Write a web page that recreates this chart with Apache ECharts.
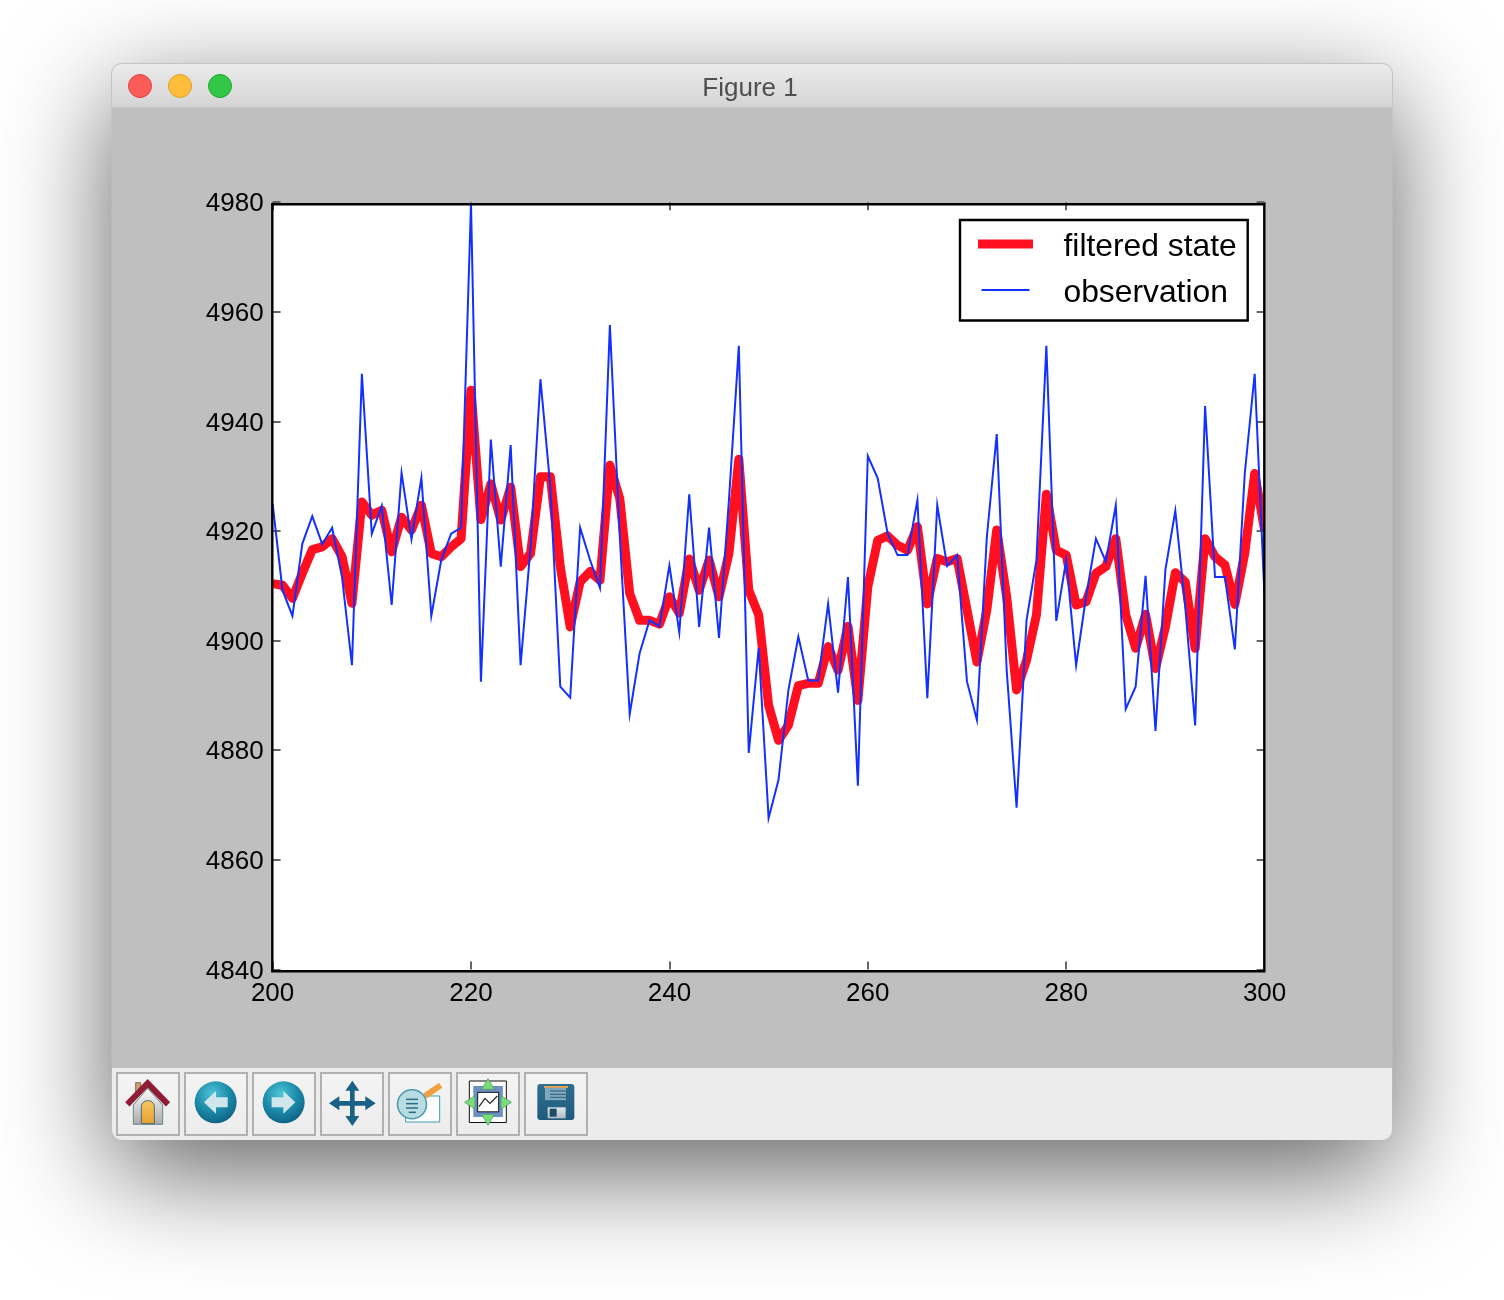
<!DOCTYPE html>
<html><head><meta charset="utf-8">
<style>html,body{margin:0;padding:0;background:#fff}#c{width:1504px;height:1300px}</style>
<script src="https://cdn.jsdelivr.net/npm/echarts@6/dist/echarts.min.js"></script>
</head><body><div id="c"></div>
<script>
const windowTitle = 'Figure 1';
const seriesNames = ['filtered state', 'observation'];
const xStart = 200;
const xTicksMinMax = [200, 300];
const yTicksMinMax = [4840, 4980];
const filteredState = [
4910.4,4910.1,4907.7,4912.3,4916.6,4917.1,4918.6,4915.3,4906.8,4925.3,
4922.9,4923.8,4916.2,4922.5,4920.2,4924.7,4915.9,4915.3,4917.1,4918.6,
4945.7,4922.1,4928.6,4922.0,4928.0,4913.5,4915.9,4929.9,4929.9,4913.5,
4902.5,4910.7,4912.6,4911.0,4932.0,4925.9,4908.6,4903.7,4903.7,4903.0,
4908.0,4905.0,4914.9,4909.2,4914.7,4908.0,4915.9,4933.1,4909.2,4904.7,
4888.2,4881.8,4884.6,4891.8,4892.2,4892.2,4898.9,4894.6,4902.6,4889.1,
4909.8,4918.3,4919.1,4917.4,4916.5,4920.8,4906.7,4915.0,4914.4,4915.0,
4905.6,4896.1,4905.6,4920.2,4908.0,4891.0,4896.4,4904.7,4926.7,4916.5,
4915.6,4906.5,4907.1,4912.3,4913.5,4918.6,4904.7,4898.6,4904.8,4894.9,
4902.5,4912.4,4910.7,4898.6,4918.6,4915.3,4913.8,4906.6,4915.9,4930.5,
4920.2];
const observation = [
4925.0,4909.2,4904.5,4917.7,4922.7,4917.6,4920.6,4911.6,4895.5,4948.7,
4919.5,4924.6,4906.5,4930.6,4918.5,4929.7,4904.5,4914.7,4919.5,4920.6,
4979.8,4892.5,4936.7,4913.5,4935.7,4895.5,4917.0,4947.7,4928.0,4891.6,
4889.6,4920.6,4914.7,4909.6,4957.6,4918.9,4886.6,4897.7,4903.7,4902.6,
4913.7,4901.5,4926.7,4902.5,4920.6,4900.5,4925.6,4953.8,4879.5,4898.7,
4867.6,4874.6,4891.0,4900.7,4892.7,4892.7,4906.7,4890.5,4911.6,4873.5,
4933.7,4929.6,4919.5,4915.6,4915.6,4925.6,4889.5,4924.7,4913.6,4915.6,
4892.5,4885.5,4918.9,4937.7,4894.6,4869.5,4903.7,4914.7,4953.8,4903.6,
4914.7,4895.5,4908.0,4918.6,4914.4,4924.7,4887.5,4891.6,4911.8,4883.5,
4912.9,4923.7,4906.2,4884.5,4942.8,4911.6,4911.6,4898.4,4930.5,4948.7,
4907.7];

const toPairs = a => a.map((v, i) => [xStart + i, v]);
const FONT = '"Liberation Sans", Arial, sans-serif';
const GRAY = '#bfbfbf';
const G = [];
const add = (o, z) => { o.z = z; o.silent = true; G.push(o); };
const rect = (x, y, w, h, style, z, r) => add({type:'rect', shape:{x, y, width:w, height:h, r:r||0}, style}, z);
const circle = (cx, cy, r, style, z) => add({type:'circle', shape:{cx, cy, r}, style}, z);
const poly = (points, style, z) => add({type:'polygon', shape:{points}, style}, z);
const pline = (points, style, z) => add({type:'polyline', shape:{points}, style}, z);
const vgrad = (a, b) => ({type:'linear', x:0, y:0, x2:0, y2:1, colorStops:[{offset:0, color:a},{offset:1, color:b}]});

/* window */
rect(111.5, 63.5, 1281, 1076.5, {fill:GRAY, shadowBlur:110, shadowColor:'rgba(0,0,0,0.62)', shadowOffsetY:32}, -20, 10);
rect(111.5, 63.5, 1281, 44, {fill:vgrad('#ececec','#d4d4d4'), stroke:'#c4c4c4', lineWidth:1}, -19, [10,10,0,0]);
rect(112, 108, 1280, 960, {fill:GRAY}, -19);
rect(112, 1068, 1280, 72, {fill:'#ececec'}, -19, [0,0,10,10]);
add({type:'text', style:{x:750, y:88.5, text:windowTitle, font:'26px '+FONT, fill:'#4f4f4f', align:'center', verticalAlign:'middle'}}, -18);
[['#fc5c57','#e0443e',140],['#ffbd3c','#dea123',180],['#33c748','#1aab29',220]].forEach(c =>
  circle(c[2], 86, 11.5, {fill:c[0], stroke:c[1], lineWidth:1}, -18));

/* toolbar buttons */
for (let i = 0; i < 7; i++) rect(117 + 68*i, 1073, 62, 62, {fill:vgrad('#f4f4f4','#ececec'), stroke:'#b0b0b0', lineWidth:2}, -18);
const Z = (x, y) => [100 + x/3, 1060 + y/3];
const P = pts => pts.map(p => Z(p[0], p[1]));
const T = -17;
/* home */
rect(...Z(107,68), 5, 11, {fill:'#c9a070', stroke:'#8a6a50', lineWidth:1}, T);
poly(P([[100,135],[143,85],[188,135],[188,193],[100,193]]), {fill:vgrad('#ffffff','#a8a8a8'), stroke:'#6a8a90', lineWidth:1}, T);
pline(P([[82,133],[143,70],[204,133]]), {stroke:'#8f1d36', lineWidth:6, fill:'none'}, T);
rect(...Z(124,122), 13, 23, {fill:vgrad('#f7c860','#e8a030'), stroke:'#4d6a78', lineWidth:1}, T, [6,6,0,0]);
/* back / forward */
const ball = {type:'radial', x:0.42, y:0.3, r:0.75, colorStops:[{offset:0, color:'#4fc4d8'},{offset:0.55, color:'#1b8aa8'},{offset:1, color:'#0e5f80'}]};
circle(...Z(347,127), 21, {fill:ball}, T);
circle(...Z(551,127), 21, {fill:ball}, T);
poly(P([[312,127],[348,93],[348,112],[383,112],[383,142],[348,142],[348,161]]), {fill:'#cfe6ec'}, T);
poly(P([[586,127],[550,93],[550,112],[515,112],[515,142],[550,142],[550,161]]), {fill:'#cfe6ec'}, T);
/* move */
const mv = '#1a6285';
poly(P([[757,62],[778,92],[764,92],[764,123],[796,123],[796,109],[827,130],[796,151],[796,137],[764,137],[764,168],[778,168],[757,198],[736,168],[750,168],[750,137],[718,137],[718,151],[687,130],[718,109],[718,123],[750,123],[750,92],[736,92]]), {fill:mv}, T);
/* zoom */
rect(...Z(917,108), 34, 26, {fill:'#fdfdff', stroke:'#3aa0b8', lineWidth:1}, T);
pline(P([[975,108],[1022,76]]), {stroke:'#f0a040', lineWidth:6, fill:'none'}, T);
circle(...Z(936,133), 14.5, {fill:'#b8dce2', stroke:'#4a98ac', lineWidth:1.5}, T);
[118,131,144,157].forEach((y, i) => pline(P([[918+(i===3?8:0),y],[954-(i===3?6:0),y]]), {stroke:'#2a6f8a', lineWidth:1.5, fill:'none'}, T));
/* subplots */
rect(...Z(1108,63), 37, 41.5, {fill:'#ffffff', stroke:'#111', lineWidth:1}, T);
rect(...Z(1120,78), 29.5, 31, {fill:'#6c8fc6'}, T);
rect(...Z(1133,97), 21, 19.5, {fill:'#fff', stroke:'#111', lineWidth:1}, T);
pline(P([[1137,140],[1155,115],[1170,130],[1192,108]]), {stroke:'#222', lineWidth:1.2, fill:'none'}, T);
const grn = {fill:'#7cdc78', stroke:'#4a9a70', lineWidth:0.8};
poly(P([[1164,56],[1183,88],[1145,88]]), grn, T);
poly(P([[1164,196],[1183,163],[1145,163]]), grn, T);
poly(P([[1094,127],[1125,107],[1125,147]]), grn, T);
poly(P([[1234,127],[1203,107],[1203,147]]), grn, T);
/* save */
rect(...Z(1312,72), 37, 36, {fill:vgrad('#2f6f92','#1f5a7c')}, T, 3);
rect(...Z(1332,78), 24, 2, {fill:'#f0a040'}, T);
rect(...Z(1335,83), 21, 12.5, {fill:'#7fa8bd'}, T);
[93,103,112].forEach(y => pline(P([[1350,y],[1398,y]]), {stroke:'#2a5f7f', lineWidth:1, fill:'none'}, T));
rect(...Z(1343,142), 18, 11, {fill:vgrad('#dfe8ec','#aebcc4')}, T);
rect(...Z(1349,146), 7, 8, {fill:'#1f4a63'}, T);

/* axes frame: white plot area under the marks, black frame over them */
const frame = {x:272.3, y:204.3, w:992, h:767};
rect(frame.x, frame.y, frame.w, frame.h, {fill:'#fff'}, -10);
rect(frame.x - 8, frame.y, 8, frame.h, {fill:GRAY}, 4);
rect(frame.x + frame.w, frame.y, 8, frame.h, {fill:GRAY}, 4);
rect(frame.x, frame.y, frame.w, frame.h, {fill:'none', stroke:'#000', lineWidth:2.4}, 5);

const tickStyle = {show:true, inside:true, length:8, lineStyle:{color:'#666', width:2}};
const plain = v => String(v);
const xBase = {type:'value', min:xTicksMinMax[0], max:xTicksMinMax[1], interval:20, splitLine:{show:false}, axisLine:{show:false}, axisTick:tickStyle};
const yBase = {type:'value', min:yTicksMinMax[0], max:yTicksMinMax[1], interval:20, splitLine:{show:false}, axisLine:{show:false}, axisTick:tickStyle};
const labelStyle = {fontFamily:FONT, fontSize:26, color:'#000'};

const chart = echarts.init(document.getElementById('c'), null, {renderer:'canvas', width:1504, height:1300});
chart.setOption({
  animation:false,
  backgroundColor:'#fff',
  graphic:{elements:G},
  grid:{left:272.6, top:202.2, width:992, height:767.2, show:false, containLabel:false},
  xAxis:[
    Object.assign({}, xBase, {position:'bottom', axisLabel:Object.assign({margin:11, formatter:plain}, labelStyle)}),
    Object.assign({}, xBase, {position:'top', axisLabel:{show:false}})
  ],
  yAxis:[
    Object.assign({}, yBase, {position:'left', axisLabel:{margin:9, formatter:v => '{t|' + v + '}', rich:{t:Object.assign({padding:[4,0,0,0]}, labelStyle)}}}),
    Object.assign({}, yBase, {position:'right', axisLabel:{show:false}})
  ],
  legend:{
    show:true, orient:'vertical', left:960, top:220, z:6,
    backgroundColor:'#fff', borderColor:'#000', borderWidth:2.4, borderRadius:0,
    padding:[11,11,11.5,18], itemWidth:46, itemHeight:10, itemGap:14,
    itemStyle:{color:'transparent', opacity:0, borderWidth:0},
    data:[
      {name:seriesNames[0], lineStyle:{width:9, color:'#ff0f20', cap:'square', opacity:1}},
      {name:seriesNames[1], lineStyle:{width:2, color:'#1230ff', cap:'square', opacity:1}}
    ],
    formatter:n => '{t|' + n + '}',
    textStyle:{rich:{t:{fontFamily:FONT, fontSize:31.8, color:'#000', padding:[6,0,0,30]}}}
  },
  series:[
    {name:seriesNames[0], type:'line', data:toPairs(filteredState), showSymbol:false, symbol:'none',
     lineStyle:{color:'#ff0f20', width:9, join:'round', cap:'butt'}, itemStyle:{color:'#ff0f20'}, z:2},
    {name:seriesNames[1], type:'line', data:toPairs(observation), showSymbol:false, symbol:'none',
     lineStyle:{color:'#1230ff', width:2, join:'miter', cap:'butt'}, itemStyle:{color:'#1230ff'}, z:3}
  ]
});
</script></body></html>
